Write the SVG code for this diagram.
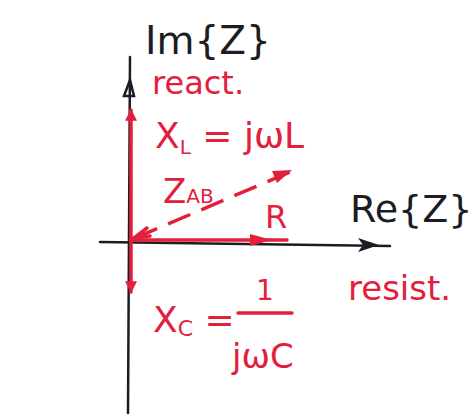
<svg xmlns="http://www.w3.org/2000/svg" width="472" height="417" viewBox="0 0 472 417">
<defs>
<style>
.k{stroke:#1c1c24;stroke-width:2.5;fill:none;stroke-linecap:round}
.r{stroke:#e2203c;stroke-width:3.5;fill:none;stroke-linecap:round}
.rd{stroke:#e2203c;stroke-width:3.5;fill:none;stroke-dasharray:24 12}
.tk{fill:#1c1c24;font-family:"DejaVu Sans",sans-serif}
.tr{fill:#e2203c;font-family:"DejaVu Sans",sans-serif}
</style>
<marker id="ar" viewBox="0 0 10 10" refX="9" refY="5" markerWidth="16" markerHeight="12" markerUnits="userSpaceOnUse" orient="auto"><path d="M0,0 L10,5 L0,10 z" fill="#e2203c"/></marker>
</defs>
<rect width="472" height="417" fill="#fff"/>
<g id="connectors">
<line class="k" x1="128" y1="413" x2="130" y2="57"/>
<path class="k" d="M124,96 L130,80 L134,96 z" fill="#1c1c24"/>
<line class="k" x1="100" y1="242" x2="390" y2="246"/>
<path d="M358,238 L379,245 L358,252 L363,245 z" fill="#1c1c24"/>
<line class="r" x1="131" y1="240" x2="131" y2="110" marker-end="url(#ar)"/>
<line class="r" x1="131" y1="240" x2="131" y2="292" marker-end="url(#ar)"/>
<line class="r" x1="131" y1="240" x2="287" y2="240"/>
<path d="M250,234 L272,240 L250,246 z" fill="#e2203c"/>
<line class="rd" x1="135" y1="238" x2="290" y2="172"/>
<path d="M272,171 L292,170 L277,183 z" fill="#e2203c"/>
<path d="M147,228 L134,238 L150,236" class="r"/>
</g>
<g id="im-label"><text class="tk" x="145" y="54" font-size="39">Im{Z}</text></g>
<g id="re-label"><text class="tk" x="350" y="222" font-size="38">Re{Z}</text></g>
<g id="react"><text class="tr" x="152" y="94" font-size="32">react.</text></g>
<g id="resist"><text class="tr" x="348" y="300" font-size="34">resist.</text></g>
<g id="xl"><text class="tr" x="155" y="148" font-size="36">X<tspan font-size="20" dy="6">L</tspan><tspan dy="-6"> = jωL</tspan></text></g>
<g id="zab"><text class="tr" x="163" y="203" font-size="34">Z<tspan font-size="20">AB</tspan></text></g>
<g id="r"><text class="tr" x="265" y="228" font-size="32">R</text></g>
<g id="xc">
<text class="tr" x="153" y="332" font-size="36">X<tspan font-size="22" dy="4">C</tspan><tspan dy="-4"> =</tspan></text>
<text class="tr" x="256" y="300" font-size="28">1</text>
<line class="r" x1="238" y1="313" x2="292" y2="313" stroke-width="2.5"/>
<text class="tr" x="232" y="368" font-size="34">jωC</text>
</g>
</svg>
